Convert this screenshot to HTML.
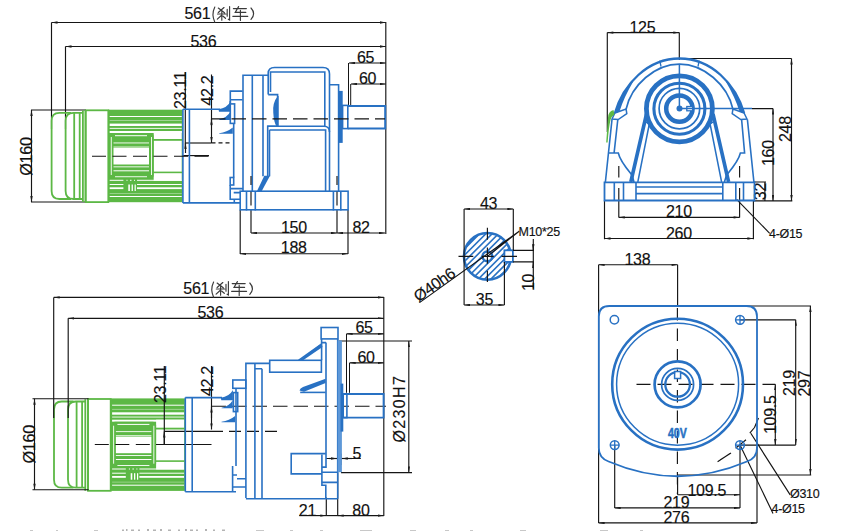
<!DOCTYPE html>
<html><head><meta charset="utf-8">
<style>
html,body{margin:0;padding:0;background:#fff;width:842px;height:531px;overflow:hidden}
svg{display:block}
text{font-family:"Liberation Sans",sans-serif;fill:#111;letter-spacing:-0.3px;stroke:#111;stroke-width:0.15px}
</style></head>
<body>
<svg width="842" height="531" viewBox="0 0 842 531">
<defs>
<marker id="a" viewBox="0 0 10 4" refX="10" refY="2" markerWidth="6.5" markerHeight="2.4" markerUnits="userSpaceOnUse" orient="auto-start-reverse"><path d="M0,0 L10,2 L0,4z" fill="#1c1c1c"/></marker>
</defs>
<rect width="842" height="531" fill="#fff"/>

<!-- ================= TOP-LEFT VIEW ================= -->
<g id="tl-dims" stroke="#151515" stroke-width="1.15" fill="none">
  <path d="M51.5,22.5 H385.8" marker-start="url(#a)" marker-end="url(#a)"/>
  <path d="M65.5,46.5 H385.8" marker-start="url(#a)" marker-end="url(#a)"/>
  <path d="M51.5,22.5 V129 M65.5,46.5 V129"/>
  <path d="M385.8,22 V234"/>
  <path d="M349,63 H385.8" marker-start="url(#a)" marker-end="url(#a)"/>
  <path d="M351,84 H385.8" marker-start="url(#a)" marker-end="url(#a)"/>
  <path d="M348.5,63 V105 M350.7,84 V105" stroke-width="1"/>
  <path d="M31,110 H86 M31,202 H86"/>
  <path d="M31.5,110 V202" marker-start="url(#a)" marker-end="url(#a)"/>
  <path d="M185.3,72 V148"/>
  <path d="M211.5,74.5 V143" marker-end="url(#a)"/>
  <path d="M185,143 H211.5"/>
  <path d="M185.5,153 V143.2" marker-end="url(#a)"/>
  <path d="M211.5,126 V118.8" marker-end="url(#a)"/>
  <path d="M180,155.6 H209"/>
  <path d="M240.2,209.8 V254 M348,209.8 V254 M251,209.8 V233 M337,209.8 V233"/>
  <path d="M251,233 H337" marker-start="url(#a)" marker-end="url(#a)"/>
  <path d="M337,233 H385" marker-start="url(#a)" marker-end="url(#a)"/>
  <path d="M240,253.7 H348" marker-start="url(#a)" marker-end="url(#a)"/>
</g>
<g id="tl-text" font-size="16">
  <text x="184.5" y="19.2">561</text>
  <text x="190.5" y="47">536</text>
  <text x="357" y="63">65</text>
  <text x="359" y="84.3">60</text>
  <text x="281" y="233.2">150</text>
  <text x="352.5" y="232.5">82</text>
  <text x="280.8" y="253">188</text>
  <text transform="translate(32,175.8) rotate(-90)" textLength="38.5" lengthAdjust="spacingAndGlyphs">Ø160</text>
  <text transform="translate(186,109) rotate(-90)">23.11</text>
  <text transform="translate(212.5,105.5) rotate(-90)">42.2</text>
</g>



<!-- CJK strokes 561(刹车) top -->
<g id="cjk" fill="none" stroke="#3a3a3a" stroke-width="1.15" stroke-linecap="round">
  <path d="M214.8,7 Q211.2,14.5 214.8,22.2"/>
  <path d="M218.3,8 L224.5,12.8 M224,7.5 L218.3,12.5 M217.5,14 H226 M221.8,11.2 V20.2 M221.3,15.5 L217.3,19.2 M222.8,16 L225.5,18.3 M227.2,9.2 V16.2 M229.6,6.6 V20 L228.3,19.2"/>
  <path d="M233.4,8.6 H246.4 M238.6,6.6 L235.2,12.4 H245.8 M232.8,16.3 H247.8 M240.4,10.2 V20.5"/>
  <path d="M251,8 Q256.2,13.7 251,19.4"/>
</g>
<!-- motor top (green) -->
<g id="motor">
  <g fill="none" stroke="#5cb845" stroke-width="1.8">
    <path d="M71,112.8 H59.4 Q51.6,112.8 51.6,120.8 V191 Q51.6,199 59.4,199 H71"/>
    <path d="M82.9,112.8 H73.5 Q65.6,112.8 65.6,120.8 V191 Q65.6,199 73.5,199 H82.9"/>
    <path d="M74.2,113 V199 M79.7,113 V199 M82.9,110.5 V202 M85.6,110.5 V202"/>
    <rect x="85.6" y="110.3" width="22.7" height="91.8"/>
  </g>
  <rect x="108.1" y="109.7" width="74.4" height="92.5" fill="#5cb845"/>
  <g fill="#fff">
    <rect x="109.7" y="116" width="72" height="1"/>
    <rect x="109.7" y="120.2" width="72" height="0.8" opacity="0.5"/>
    <rect x="109.7" y="123.6" width="72" height="2.4"/>
    <rect x="109.7" y="127.9" width="72" height="0.9"/>
    <rect x="109.7" y="131" width="72" height="2"/>
    <rect x="153.7" y="131" width="28" height="8"/>
    <rect x="153.7" y="140.8" width="28" height="30.8"/>
    <rect x="153.7" y="173.2" width="28" height="7.6"/>
    <rect x="109.7" y="179.8" width="13.7" height="1"/><rect x="137" y="179.8" width="44.7" height="1"/>
    <rect x="109.7" y="184" width="13.7" height="1"/><rect x="137" y="184" width="44.7" height="1"/>
    <rect x="109.7" y="187.3" width="13.7" height="1.8"/><rect x="137" y="187.3" width="44.7" height="1.8"/>
    <rect x="109.7" y="193" width="72" height="0.8" opacity="0.45"/>
    <rect x="109.7" y="196" width="72" height="1"/>
  </g>
  <!-- terminal box -->
  <rect x="109.2" y="133" width="44.5" height="45.5" rx="3.5" fill="#5cb845"/>
  <g fill="#fff">
    <rect x="113.5" y="148" width="35.5" height="16.5"/>
    <rect x="115" y="135.2" width="32" height="1"/>
    <rect x="113.5" y="142.5" width="35.5" height="0.9"/>
    <rect x="113.5" y="146.6" width="35.5" height="0.9"/>
    <rect x="113.5" y="166.4" width="35.5" height="0.9"/>
    <rect x="113.5" y="170.3" width="35.5" height="1"/>
    <rect x="115" y="176.3" width="32" height="0.9"/>
    <rect x="110.8" y="137" width="0.9" height="38"/>
    <rect x="151" y="137" width="0.9" height="38"/>
    <rect x="128.3" y="184.5" width="1.6" height="6.5"/><rect x="131.6" y="184.5" width="1.3" height="6.5"/><rect x="134.6" y="184.5" width="1.2" height="6.5"/>
    <rect x="126.5" y="179.8" width="1" height="1"/><rect x="130" y="179.8" width="1.5" height="1"/><rect x="134" y="179.8" width="1" height="1"/>
  </g>
</g>

<!-- gearbox top (blue) -->
<g id="adapter" fill="none" stroke="#2871c3" stroke-width="1.6">
  <path d="M182.9,109.2 V202.9 M189.4,109.2 V202.9 M182.9,109.2 H220 M182.9,202.9 H240.2"/>
</g>
<g id="tl-gear" fill="none" stroke="#2871c3" stroke-width="1.6">
  <path d="M230.3,104 V91.1 H242.6 M230.3,99.7 H242.6"/>
  <rect x="230.3" y="103.9" width="4.3" height="19.5"/>
  <path d="M233.7,123.4 V177.5 M230.3,101 V104"/>
  <rect x="230.2" y="177.5" width="3.5" height="7.5"/>
  <path d="M230.2,185 V199.2 H240.2 M230.2,188.6 H243 M233.7,192.6 H240.2 M234.3,199.2 V202.9"/>
  <path d="M243,191.5 V75.3 H268.2 M252.3,75.3 V191.5 M263,75.3 V176.3"/>
  <path d="M268.2,94.6 V73.5 Q268.2,67.5 274.5,67.5 H323 Q329.5,67.5 329.5,74 V191.5"/>
  <path d="M270.5,92 V72 H324.8 V126.3"/>
  <path d="M268.2,94.6 H277.6 V126.3 H267.7 V176.3"/>
  <path d="M269.5,130 V176.3"/>
  <path d="M267.2,126.3 H324 Q329.5,126.3 329.5,132 M269.5,130 H325.6 V191.5"/>
  <path d="M329.5,84.8 H338.6 V191.5"/>
  <rect x="342.6" y="105.4" width="5.2" height="23.2"/>
  <path d="M347.8,105.9 H385.2 V128.4 H347.8" stroke-width="2"/>
  <rect x="240.2" y="191.2" width="107.9" height="18.6"/>
  <path d="M246.5,191.5 V210.5 M255.3,191.5 V210.5 M333.4,191.5 V210.5 M340.8,191.5 V210.5"/>
</g>
<g fill="#2871c3">
  <path d="M218.5,109.3 Q227,108.2 230.6,101.6 L230.6,111.8 L219,111.8 z"/>
  <path d="M219.3,119.3 Q227,117.8 230.4,111.8 L230.4,119.9 L219.3,119.9 z"/>
  <path d="M219.2,133.3 Q227,132.3 232.8,127.6 L232.8,133.8 L219.2,133.8 z"/>
  <path d="M277.8,96 Q272.2,103 273.3,113 Q273.8,122 276.5,126.5 L278.6,126.5 L278.6,96z"/>
  <rect x="338.8" y="90.9" width="3.9" height="52"/>
  <path d="M264.3,175.8 L270,175.8 L261.5,191.5 L256.8,191.5z"/>
</g>
<g stroke="#151515" stroke-width="1.15" fill="none">
  <path d="M211,118.9 H385" stroke-dasharray="14.5 6"/>
  <path d="M211.5,142.9 H231" stroke-dasharray="4 3"/>
  <path d="M92,156.2 H209" stroke-dasharray="14 6.5"/>
  <path d="M251,176 V185 M337,176 V185 M251,191.8 V205.5 M337,191.8 V205.5"/>
</g>

<!-- ================= TOP-RIGHT VIEW ================= -->
<g id="tr-dims" stroke="#151515" stroke-width="1.15" fill="none">
  <path d="M607.3,32.6 H679.3" marker-start="url(#a)" marker-end="url(#a)"/>
  <path d="M607.3,32.6 V132 M679.3,32.6 V60"/>
  <path d="M679.3,58.5 H791.5 M752,108.6 H773 M754,182 H766 M754,200.9 H792.3"/>
  <path d="M791.5,58.5 V200.9" marker-start="url(#a)" marker-end="url(#a)"/>
  <path d="M773,108.6 V200.9" marker-start="url(#a)" marker-end="url(#a)"/>
  <path d="M764.9,182 V200.9"/>
  <path d="M604.5,200 V239.3 M753.4,200.9 V239.3 M618.8,200 V217.4 M739.6,200 V217.4"/>
  <path d="M618.8,166 V177.5 M739.6,166 V177.5 M618.8,188 V200 M739.6,188 V200"/>
  <path d="M618.8,217.4 H739.6" marker-start="url(#a)" marker-end="url(#a)"/>
  <path d="M604.5,238.5 H753.4" marker-start="url(#a)" marker-end="url(#a)"/>
  <path d="M736.6,199.4 L769.7,233.3"/>
</g>
<g font-size="16">
  <text x="629.5" y="33.2">125</text>
  <text x="666" y="217">210</text>
  <text x="666" y="239.2">260</text>
  <text transform="translate(790.5,142) rotate(-90)">248</text>
  <text transform="translate(773.5,166) rotate(-90)">160</text>
  <text transform="translate(766.3,200.2) rotate(-90)">32</text>
</g>
<text x="769" y="238" font-size="12.5">4-Ø15</text>
<g id="tr-part" fill="none" stroke="#2871c3">
  <!-- arch -->
  <path d="M614.9,113 C623.2,84.3 647.5,58.5 679.5,58.5 C711.5,58.5 735.8,84.3 744.1,113" stroke-width="2.3"/>
  <path d="M626.1,109.1 C631.5,84.8 655.2,64.1 679.5,64.1 C703.8,64.1 727.5,84.8 732.9,109.1" stroke-width="1.7"/>
  <path d="M659.8,60.5 L661,66.5 M699.2,60.5 L698,66.5" stroke-width="1.3"/>
  <!-- knuckles -->
  <path d="M614.9,113 L626.1,109.1 L626.8,113.7 L618.2,119.6 L612,119z" stroke-width="1.5"/>
  <path d="M744.1,113 L732.9,109.1 L732.2,113.7 L740.8,119.6 L747,119z" stroke-width="1.5"/>
  <!-- outer legs -->
  <path d="M612,119.5 L605.4,182 M617.8,119.5 L614.1,153 H618.3 C620,161 627,169 632,175 L634,182 M608.5,153 H614.1" stroke-width="1.6"/>
  <path d="M747.4,119.5 L753.9,182 M741.6,119.5 L744.6,153 H740.4 C738.6,161 731.6,169 726.6,175 L724.4,182" stroke-width="1.6"/>
  <!-- rings -->
  <circle cx="679.4" cy="108.8" r="33" stroke-width="4.8"/>
  <circle cx="679.4" cy="108.7" r="25.5" stroke-width="3.1"/>
  <circle cx="679.4" cy="108.6" r="20.3" stroke-width="1.7"/>
  <circle cx="679.4" cy="108.6" r="13.2" stroke-width="4.5"/>
    <rect x="686.8" y="106.5" width="5.8" height="4.3" fill="#fff" stroke-width="1.3"/>
  <path d="M679.4,64 V108.6 H752" stroke-width="1.5"/>
  <!-- inner frame legs -->
  <path d="M646.5,114 L630.8,182 M713,114 L728.6,182" stroke-width="3.6"/>
  <path d="M649.8,121.5 L637.8,182 M709.6,121.5 L721.6,182 M646,122 L654.5,127.8 M713,122 L704.5,127.8" stroke-width="1.5"/>
  <!-- base -->
  <path d="M604.5,182.3 H754.5 V200.5 H604.5z" stroke-width="1.8"/>
  <path d="M636,182.3 V200.5 M722.8,182.3 V200.5 M614.3,182.3 V200.5 M623.5,182.3 V200.5 M735.8,182.3 V200.5 M743.5,182.3 V200.5" stroke-width="1.6"/>
  <path d="M636,187 H722.8 M636,193.6 H722.8" stroke-width="1.6"/>
</g>
<circle cx="679.5" cy="108.5" r="3" fill="#2871c3"/>
<path d="M632,80.5 Q621,94 614.5,113.5 L619.5,111.5 Q624,97 633,82z" fill="#2871c3"/>
<path d="M727,80.5 Q738,94 744.5,113.5 L739.5,111.5 Q735,97 726,82z" fill="#2871c3"/>
<path d="M613.5,110 Q608,111.5 608,118 L606.2,142.5 L607.6,142.5 Q608.8,127 610.6,119.5 Q612,116 614.5,114.5z" fill="#5cb845"/>

<!-- ================= SECTION VIEW ================= -->
<defs>
  <clipPath id="shc"><circle cx="487.4" cy="256.4" r="23.4"/></clipPath>
</defs>
<g clip-path="url(#shc)" stroke="#2871c3" stroke-width="1.6">
  <path d="M394.4,300 L484.4,210 M400.7,300 L490.7,210 M407.0,300 L497.0,210 M413.3,300 L503.3,210 M419.6,300 L509.6,210 M425.9,300 L515.9,210 M432.2,300 L522.2,210 M438.5,300 L528.5,210 M444.8,300 L534.8,210 M451.1,300 L541.1,210 M457.4,300 L547.4,210 M463.7,300 L553.7,210 M470.0,300 L560.0,210 M476.3,300 L566.3,210 M482.6,300 L572.6,210 M488.9,300 L578.9,210 M495.2,300 L585.2,210"/>
</g>
<circle cx="487.4" cy="256.4" r="23.4" fill="none" stroke="#2871c3" stroke-width="2.6"/>
<rect x="504.4" y="250.3" width="8.5" height="11.6" fill="#fff" stroke="#2871c3" stroke-width="1.8"/>
<circle cx="487.4" cy="256.4" r="4.8" fill="#fff" stroke="#2871c3" stroke-width="2.5"/>
<g stroke="#151515" stroke-width="1.15" fill="none">
  <path d="M487.4,227.7 V239.7 M487.4,247.5 V263.7 M487.4,270.8 V282.1 M458.5,256.4 H473.3 M481.8,256.4 H493.8 M501.6,256.4 H517"/>
  <path d="M464.1,209 V305 M513.3,209 V250.3 M504.4,262 V305 M512.9,250.3 H534 M512.9,261.9 H534"/>
  <path d="M464.1,209 H513.3" marker-start="url(#a)" marker-end="url(#a)"/>
  <path d="M464.1,305 H504.4" marker-start="url(#a)" marker-end="url(#a)"/>
  <path d="M533.3,239 V288.5"/>
  <path d="M533.3,244 V250.3" marker-end="url(#a)"/>
  <path d="M533.3,268 V261.9" marker-end="url(#a)"/>
  <path d="M419.5,302.6 L519.2,231.2 M487.4,256.4 L519.2,231.2"/>
</g>
<g font-size="16">
  <text x="480" y="209.3">43</text>
  <text x="475.8" y="305">35</text>
  <text transform="translate(534,291) rotate(-90)">10</text>
  <text transform="translate(418.5,302.5) rotate(-35)">Ø40h6</text>
</g>
<text x="518.6" y="236" font-size="12.5">M10*25</text>

<!-- ================= BOTTOM-LEFT VIEW ================= -->
<g transform="translate(2.4,288.7)">
  <g fill="none" stroke="#5cb845" stroke-width="1.8">
    <path d="M71,112.8 H59.4 Q51.6,112.8 51.6,120.8 V191 Q51.6,199 59.4,199 H71"/>
    <path d="M82.9,112.8 H73.5 Q65.6,112.8 65.6,120.8 V191 Q65.6,199 73.5,199 H82.9"/>
    <path d="M74.2,113 V199 M79.7,113 V199 M82.9,110.5 V202 M85.6,110.5 V202"/>
    <rect x="85.6" y="110.3" width="22.7" height="91.8"/>
  </g>
  <rect x="108.1" y="109.7" width="74.4" height="92.5" fill="#5cb845"/>
  <g fill="#fff">
    <rect x="109.7" y="116" width="72" height="1"/>
    <rect x="109.7" y="120.2" width="72" height="0.8" opacity="0.5"/>
    <rect x="109.7" y="123.6" width="72" height="2.4"/>
    <rect x="109.7" y="127.9" width="72" height="0.9"/>
    <rect x="109.7" y="131" width="72" height="2"/>
    <rect x="153.7" y="131" width="28" height="8"/>
    <rect x="153.7" y="140.8" width="28" height="30.8"/>
    <rect x="153.7" y="173.2" width="28" height="7.6"/>
    <rect x="109.7" y="179.8" width="13.7" height="1"/><rect x="137" y="179.8" width="44.7" height="1"/>
    <rect x="109.7" y="184" width="13.7" height="1"/><rect x="137" y="184" width="44.7" height="1"/>
    <rect x="109.7" y="187.3" width="13.7" height="1.8"/><rect x="137" y="187.3" width="44.7" height="1.8"/>
    <rect x="109.7" y="193" width="72" height="0.8" opacity="0.45"/>
    <rect x="109.7" y="196" width="72" height="1"/>
  </g>
  <!-- terminal box -->
  <rect x="109.2" y="133" width="44.5" height="45.5" rx="3.5" fill="#5cb845"/>
  <g fill="#fff">
    <rect x="113.5" y="148" width="35.5" height="16.5"/>
    <rect x="115" y="135.2" width="32" height="1"/>
    <rect x="113.5" y="142.5" width="35.5" height="0.9"/>
    <rect x="113.5" y="146.6" width="35.5" height="0.9"/>
    <rect x="113.5" y="166.4" width="35.5" height="0.9"/>
    <rect x="113.5" y="170.3" width="35.5" height="1"/>
    <rect x="115" y="176.3" width="32" height="0.9"/>
    <rect x="110.8" y="137" width="0.9" height="38"/>
    <rect x="151" y="137" width="0.9" height="38"/>
    <rect x="128.3" y="184.5" width="1.6" height="6.5"/><rect x="131.6" y="184.5" width="1.3" height="6.5"/><rect x="134.6" y="184.5" width="1.2" height="6.5"/>
    <rect x="126.5" y="179.8" width="1" height="1"/><rect x="130" y="179.8" width="1.5" height="1"/><rect x="134" y="179.8" width="1" height="1"/>
  </g>
</g>
<g id="bl-dims" stroke="#151515" stroke-width="1.15" fill="none">
  <path d="M53.7,297.4 H383.8" marker-start="url(#a)" marker-end="url(#a)"/>
  <path d="M68.2,318.3 H383.8" marker-start="url(#a)" marker-end="url(#a)"/>
  <path d="M53.7,297.4 V418 M68.2,318.3 V418"/>
  <path d="M383.8,297 V516"/>
  <path d="M346.6,333.8 H383.8" marker-start="url(#a)" marker-end="url(#a)"/>
  <path d="M349.7,362.8 H383.8" marker-start="url(#a)" marker-end="url(#a)"/>
  <path d="M346.5,333.8 V392.8 M349.5,362.8 V392.8" stroke-width="1"/>
  <path d="M32.5,398.7 H88.6 M32.5,489.7 H88.6"/>
  <path d="M34.5,398.7 V489.7" marker-start="url(#a)" marker-end="url(#a)"/>
  <path d="M164.3,366 V444.5"/>
  <path d="M164.3,444 V431.5" marker-end="url(#a)"/>
  <path d="M211.5,418 V406.5" marker-end="url(#a)"/>
  <path d="M211.5,366 V429.5" marker-end="url(#a)"/>
  <path d="M164.3,431.3 H211"/>
  <path d="M211,431.3 H277" stroke-dasharray="12 6"/>
  <path d="M338.3,341 H412 M341,472.6 H412"/>
  <path d="M408.8,341 V472.6" marker-start="url(#a)" marker-end="url(#a)"/>
  <path d="M326,458.5 H360.8"/>
  <path d="M329,458.5 H337" marker-end="url(#a)"/>
  <path d="M352,458.5 H341.8" marker-end="url(#a)"/>
  <path d="M326.3,497.5 V516 M337.7,472.6 V516"/>
  <path d="M299.2,515.6 H326.3" marker-end="url(#a)"/>
  <path d="M326.3,515.6 H337.7"/>
  <path d="M337.7,515.6 H383.8" marker-start="url(#a)" marker-end="url(#a)"/>
  <path d="M211.5,406.2 H386" stroke-dasharray="14.5 6"/>
  <path d="M94.8,444.5 H150" stroke-dasharray="14 6.5"/>
  <path d="M156,444.5 H211.5"/>
  <path d="M338.5,453.5 V465 M341,453.5 V465"/>
</g>
<g id="bl-cjk" fill="none" stroke="#3a3a3a" stroke-width="1.15" stroke-linecap="round" transform="translate(-1.2,275)">
  <path d="M214.8,7 Q211.2,14.5 214.8,22.2"/>
  <path d="M218.3,8 L224.5,12.8 M224,7.5 L218.3,12.5 M217.5,14 H226 M221.8,11.2 V20.2 M221.3,15.5 L217.3,19.2 M222.8,16 L225.5,18.3 M227.2,9.2 V16.2 M229.6,6.6 V20 L228.3,19.2"/>
  <path d="M233.4,8.6 H246.4 M238.6,6.6 L235.2,12.4 H245.8 M232.8,16.3 H247.8 M240.4,10.2 V20.5"/>
  <path d="M251,8 Q256.2,13.7 251,19.4"/>
</g>
<g font-size="16">
  <text x="183.3" y="294.2">561</text>
  <text x="197.5" y="317.8">536</text>
  <text x="355.5" y="332.5">65</text>
  <text x="357.5" y="362.5">60</text>
  <text x="352.5" y="458.5">5</text>
  <text x="298.8" y="515.8">21</text>
  <text x="352.3" y="515.8">80</text>
  <text transform="translate(34.5,463.5) rotate(-90)" textLength="38.5" lengthAdjust="spacingAndGlyphs">Ø160</text>
  <text transform="translate(165.5,403) rotate(-90)">23.11</text>
  <text transform="translate(213,396) rotate(-90)">42.2</text>
  <text transform="translate(405,442.5) rotate(-90)" textLength="66" lengthAdjust="spacing">Ø230H7</text>
</g>
<g id="bl-gear" fill="none" stroke="#2871c3" stroke-width="1.6">
  <path d="M185.3,397.6 V491.7 M192.2,397.6 V491.7 M185.3,397.6 H222 M185.3,491.7 H236"/>
  <rect x="232.8" y="380" width="13" height="8.3"/>
  <rect x="233.4" y="392.6" width="4.3" height="19"/>
  <path d="M236,388.3 V466 M232.6,466 V475 H237 M232.6,475 V487 H245.9 M237,478.7 H245.9 M232.6,487 V491.7"/>
  <path d="M245.9,498 V363.4 H269.7 M254.9,363.4 V498 M262,368.8 V498 M254.9,368.8 H262"/>
  <rect x="269.7" y="360.3" width="51.7" height="11.9"/>
  <path d="M298.5,360.3 L321.4,344.2"/>
  <rect x="321.1" y="327.5" width="16.9" height="11.4"/>
  <path d="M321.6,338.9 V360.3 M326,342.6 V467.1 H321.9 M321.6,342.6 H326"/>
  <path d="M325.8,453.6 H291.2 V473.9 H321.9 M321.9,454.7 V485.2 H325.8 V498.8"/>
  <path d="M321.9,472.2 H338 M321.9,482.4 H338"/>
  <path d="M300.2,392.4 H325.6"/>
  <path d="M245.9,498.8 H337.7"/>
  <path d="M337.7,338.9 V498.8"/>
  <path d="M343.2,394 H383.6 V417.6 H343.2" stroke-width="1.9"/>
  <rect x="343.2" y="394" width="3.7" height="23.6"/>
</g>
<g fill="#2871c3">
  <g transform="translate(2.3,288.4)">
  <path d="M218.5,109.3 Q227,108.2 230.6,101.6 L230.6,111.8 L219,111.8 z"/>
  <path d="M219.3,119.3 Q227,117.8 230.4,111.8 L230.4,119.9 L219.3,119.9 z"/>
  <path d="M219.2,133.3 Q227,132.3 232.8,127.6 L232.8,133.8 L219.2,133.8 z"/>
  </g>
  <path d="M298.5,361 L321.4,343.6 L322.5,347 L302,361z"/>
  <path d="M299.5,390.5 Q300,388 303,387 L325.6,378.8 L325.6,383 L304,391.7z"/>
  <rect x="337.6" y="340.4" width="4.3" height="131.8" fill="#5e98d8"/>
  <rect x="340.5" y="383.6" width="2.8" height="48"/>
</g>

<!-- ================= BOTTOM-RIGHT VIEW ================= -->
<g id="br-dims" stroke="#151515" stroke-width="1.15" fill="none">
  <path d="M598.6,264.7 H677.6" marker-start="url(#a)" marker-end="url(#a)"/>
  <path d="M598.6,264.7 V523 M677.6,264.7 V306"/>
  <path d="M677.6,476 V494.7 M614.7,445.1 V507.9 M740,445.1 V507.9 M757,447 V523"/>
  <path d="M677.6,494.7 H740" marker-end="url(#a)"/>
  <path d="M614.7,507.9 H740" marker-start="url(#a)" marker-end="url(#a)"/>
  <path d="M598.6,522.9 H757" marker-start="url(#a)" marker-end="url(#a)"/>
  <path d="M745,306 H811 M740,319.8 H795.7 M740,445.1 H795.7 M775.3,384.2 H775.3 M677.6,475 H811.2"/>
  <path d="M810.4,306 V475" marker-start="url(#a)" marker-end="url(#a)"/>
  <path d="M795.7,319.8 V445.1" marker-start="url(#a)" marker-end="url(#a)"/>
  <path d="M775.3,384.2 V445.1" marker-start="url(#a)" marker-end="url(#a)"/>
  <path d="M740,445.1 L773,513.4 M750.8,433.3 L790.2,494.9"/>
</g>
<g stroke="#151515" stroke-width="1.15" fill="none">
  <path d="M677.4,308 V494" stroke-dasharray="12.5 8"/>
  <path d="M636.5,384.4 H775.3" stroke-dasharray="14 7"/>
  <path d="M754.5,427.5 L758.5,418 M731,453 L720,460 M717.6,461.8 L730,453.5 M735.6,448.2 L746,439.8 M749.8,433.2 L754.5,427.5"/>
</g>
<g font-size="16">
  <text x="624.5" y="265.3">138</text>
  <text x="687.5" y="495.8">109.5</text>
  <text x="663.5" y="507.8">219</text>
  <text x="663.5" y="523">276</text>
  <text transform="translate(794.5,396) rotate(-90)">219</text>
  <text transform="translate(810,396.5) rotate(-90)">297</text>
  <text transform="translate(775.7,434) rotate(-90)">109.5</text>
</g>
<text x="790" y="498" font-size="12.5">Ø310</text>
<text x="771.5" y="513" font-size="12.5">4-Ø15</text>
<g id="br-part" fill="none" stroke="#2871c3">
  <path d="M598.8,316.5 Q598.8,306 609.3,306 H746.5 Q757,306 757,316.5 V448 Q757,458 747,461.5 Q677.6,491 608.6,461.5 Q598.8,458 598.8,448 Z" stroke-width="1.8"/>
  <circle cx="677.6" cy="384.2" r="65.4" stroke-width="2.6"/>
  <circle cx="677.6" cy="384.2" r="61" stroke-width="1.5"/>
  <circle cx="677.6" cy="384.4" r="23" stroke-width="2.7"/>
  <circle cx="677.6" cy="384.4" r="16" stroke-width="1.7"/>
  <circle cx="677.6" cy="384.4" r="12.3" stroke-width="2.3"/>
  <rect x="675.3" y="371" width="4.6" height="7.2" fill="#fff" stroke="none"/>
  <path d="M674.6,373.5 V371.6 H680.6 V373.5 M674.6,371.6 V378.6 H680.6 V371.6" stroke-width="1.5"/>
  <circle cx="614.4" cy="319.8" r="4.2" stroke-width="1.5"/>
  <circle cx="740" cy="319.8" r="4.4" stroke-width="1.5"/>
  <circle cx="614.7" cy="445.1" r="4.4" stroke-width="1.5"/>
  <circle cx="740" cy="445.1" r="4.4" stroke-width="1.5"/>
  <path d="M735.6,319.8 H744.4 M740,315.4 V324.2 M610.3,445.1 H619.1 M614.7,440.7 V449.5 M735.6,445.1 H744.4 M740,440.7 V449.5" stroke-width="1.3"/>
</g>
<text x="668" y="438" font-size="15" font-weight="bold" style="fill:#2871c3;stroke:#2871c3;stroke-width:0.6;letter-spacing:0" textLength="18.8" lengthAdjust="spacingAndGlyphs">40V</text>

<g fill="#b4b4b4">
  <rect x="122" y="529.5" width="2" height="1.5"/><rect x="126" y="529" width="1.5" height="2"/><rect x="131" y="529.5" width="3" height="1.5"/>
  <rect x="138" y="529.5" width="2" height="1.5"/><rect x="147" y="529" width="2" height="2"/><rect x="153" y="529.5" width="3" height="1.5"/>
  <rect x="160" y="529" width="2" height="2"/><rect x="168" y="529.5" width="3" height="1.5"/><rect x="178" y="529.5" width="2" height="1.5"/>
  <rect x="185" y="529" width="2" height="2"/><rect x="190" y="529.5" width="3" height="1.5"/><rect x="196" y="529.5" width="2" height="1.5"/>
  <rect x="205" y="529" width="2" height="2"/><rect x="213" y="529.5" width="2" height="1.5"/><rect x="222" y="529.5" width="3" height="1.5"/>
</g>
<g fill="#c8c8c8">
  <rect x="30" y="530" width="3" height="1"/><rect x="56" y="530" width="2" height="1"/><rect x="94" y="530" width="4" height="1"/>
  <rect x="256" y="530" width="8" height="1"/><rect x="290" y="530" width="3" height="1"/><rect x="320" y="530" width="3" height="1"/><rect x="360" y="530" width="12" height="1"/><rect x="410" y="530" width="6" height="1"/>
  <rect x="445" y="530" width="4" height="1"/><rect x="470" y="530" width="3" height="1"/><rect x="520" y="530" width="6" height="1"/><rect x="600" y="530" width="8" height="1"/><rect x="640" y="530" width="3" height="1"/>
</g>
</svg>
</body></html>
